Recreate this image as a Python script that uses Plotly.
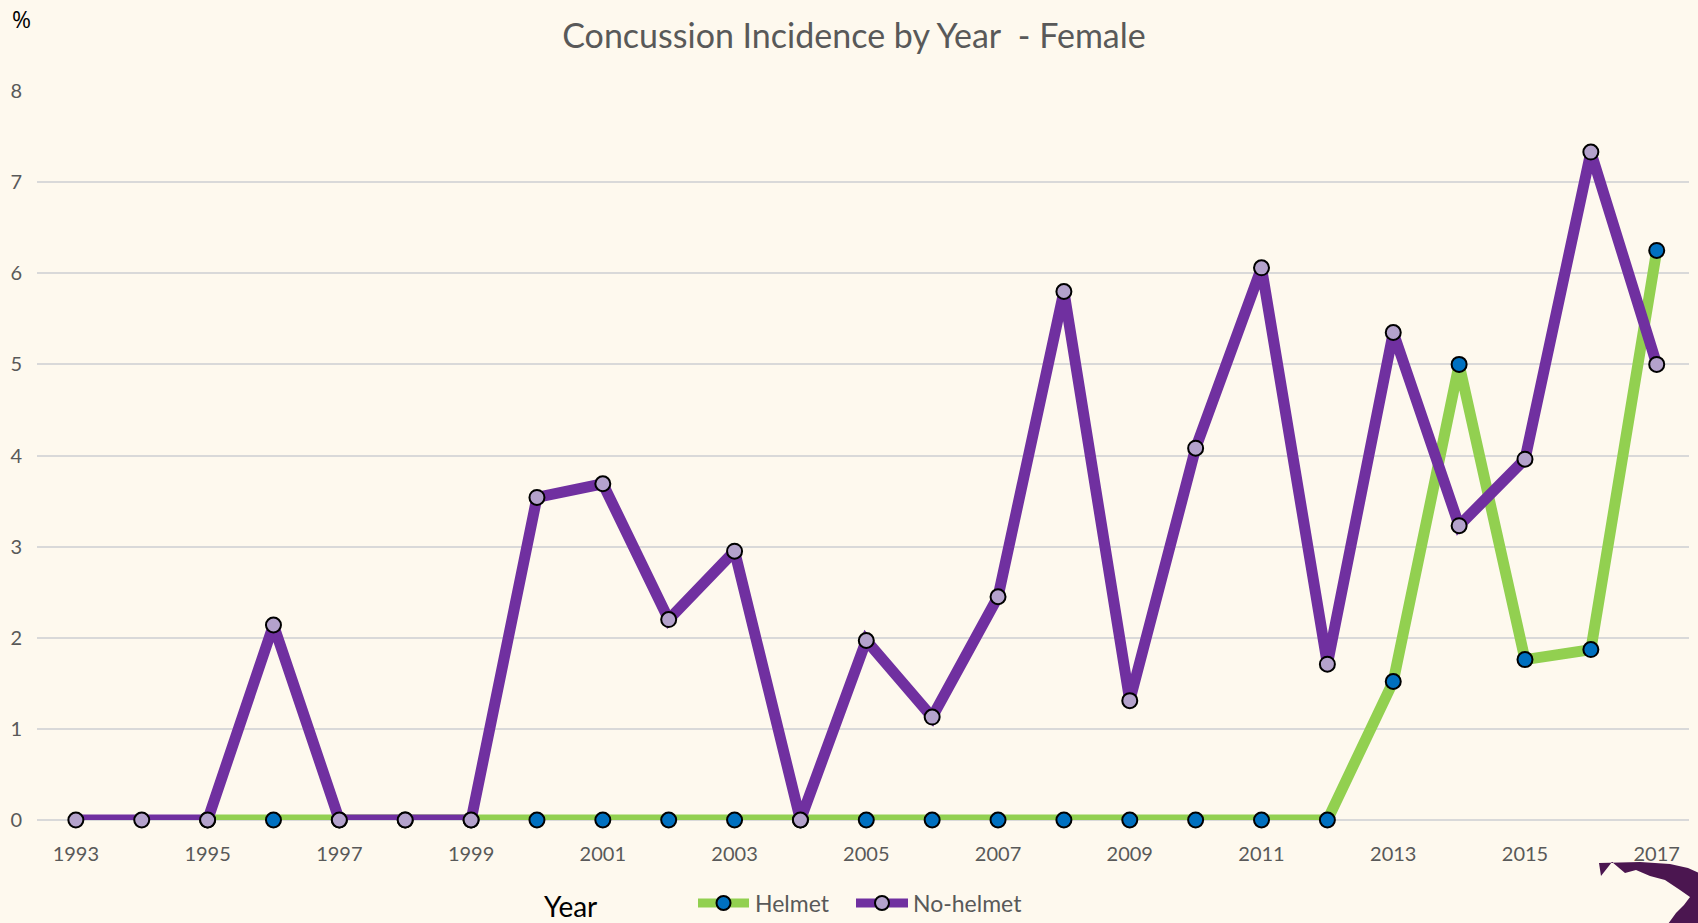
import plotly.graph_objects as go

years = list(range(1993, 2018))
no_helmet = [0, 0, 0, 2.14, 0, 0, 0, 3.54, 3.69, 2.20, 2.95, 0, 1.97, 1.13, 2.45,
             5.80, 1.31, 4.08, 6.06, 1.71, 5.35, 3.23, 3.96, 7.33, 5.00]
helmet = [None, None, 0, 0, 0, 0, 0, 0, 0, 0, 0, 0, 0, 0, 0,
          0, 0, 0, 0, 0, 1.52, 5.00, 1.76, 1.87, 6.25]
x_ticks = list(range(1993, 2018, 2))
y_ticks = list(range(0, 9))
series_names = ["Helmet", "No-helmet"]

W, H = 1698, 923
L, R, T, B = 37, 9, 91, 103
pw, ph = W - L - R, H - T - B
BG = "#FEF9EE"
LINE_COLORS = ["#92D050", "#7030A0"]
MARK_COLORS = ["#0070C0", "#B4A2CC"]

def px(x, y):
    return ((x - L) / pw, (H - B - y) / ph)

fig = go.Figure()
for name, vals, lc, mc in zip(series_names, [helmet, no_helmet], LINE_COLORS, MARK_COLORS):
    fig.add_trace(go.Scatter(
        x=years, y=vals, name=name, mode="lines+markers",
        line=dict(color=lc, width=11),
        marker=dict(color=mc, size=15, line=dict(color="#000000", width=2)),
        cliponaxis=False, showlegend=False,
    ))

shapes = []
annotations = []

# legend (drawn manually to match the longer symbol)
leg_y = 903
leg_items = [(694, 753, 753), (852, 912, 911)]
for (x0, x1, xt), name, lc, mc in zip(leg_items, series_names, LINE_COLORS, MARK_COLORS):
    a0 = px(x0 + 4, leg_y)
    a1 = px(x1 - 4, leg_y)
    shapes.append(dict(type="line", xref="paper", yref="paper", x0=a0[0], y0=a0[1],
                       x1=a1[0], y1=a1[1], line=dict(color=lc, width=9), layer="above"))
    cx = (x0 + x1) / 2
    c0 = px(cx - 7, leg_y + 7)
    c1 = px(cx + 7, leg_y - 7)
    shapes.append(dict(type="circle", xref="paper", yref="paper", x0=c0[0], y0=c0[1],
                       x1=c1[0], y1=c1[1], fillcolor=mc,
                       line=dict(color="#000000", width=2), layer="above"))
    t = px(xt, leg_y)
    annotations.append(dict(text=name, xref="paper", yref="paper", x=t[0], y=t[1],
                            xanchor="left", yanchor="middle", showarrow=False,
                            font=dict(family="Lato", size=23, color="#595959")))

# logo fragment in the bottom-right corner
pts = [(1599, 863), (1640, 862), (1670, 864), (1688, 868), (1699, 873), (1699, 924),
       (1668, 924), (1676, 913), (1684, 905), (1690, 897), (1680, 890), (1665, 880),
       (1650, 876), (1636, 870), (1625, 873), (1612, 862), (1601, 876)]
path = "M " + " L ".join(f"{px(a, b)[0]:.5f},{px(a, b)[1]:.5f}" for a, b in pts) + " Z"
shapes.append(dict(type="path", path=path, xref="paper", yref="paper",
                   fillcolor="#4B1650", line=dict(width=0), layer="above"))

annotations += [
    dict(text="%", xref="paper", yref="paper", x=px(21, 0)[0], y=px(0, 19)[1],
         xanchor="center", yanchor="middle", showarrow=False,
         font=dict(family="Open Sans", size=23, color="#000000")),
    dict(text="Year", xref="paper", yref="paper", x=px(570, 0)[0], y=px(0, 906)[1],
         xanchor="center", yanchor="middle", showarrow=False,
         font=dict(family="Lato", size=28, color="#000000")),
]

fig.update_layout(
    width=W, height=H,
    margin=dict(l=L, r=R, t=T, b=B, autoexpand=False),
    paper_bgcolor=BG, plot_bgcolor=BG,
    font=dict(family="Lato", color="#595959"),
    title=dict(text="Concussion Incidence by Year  - Female", x=px(854, 0)[0], xref="paper",
               xanchor="center", y=1 - 36 / H, yanchor="middle",
               font=dict(family="Lato", size=34, color="#595959")),
    showlegend=False,
    xaxis=dict(range=[1992.41, 2017.49], tickvals=x_ticks, ticktext=[str(v) for v in x_ticks],
               showgrid=False, zeroline=False, showline=False, ticks="",
               ticklabelstandoff=20, tickfont=dict(size=20, color="#595959")),
    yaxis=dict(range=[0, 8], tickvals=y_ticks, showgrid=True, gridcolor="#D9D9D9",
               gridwidth=1.5, zeroline=True, zerolinecolor="#D9D9D9", zerolinewidth=1.5,
               showline=False, ticks="", ticklabelstandoff=14,
               tickfont=dict(size=20, color="#595959")),
    annotations=annotations,
    shapes=shapes,
)

fig.write_html(
    "out.html",
    config={"displayModeBar": False},
    post_script=f"document.body.style.margin='0';document.body.style.background='{BG}';"
                "document.body.style.overflow='hidden';",
)
